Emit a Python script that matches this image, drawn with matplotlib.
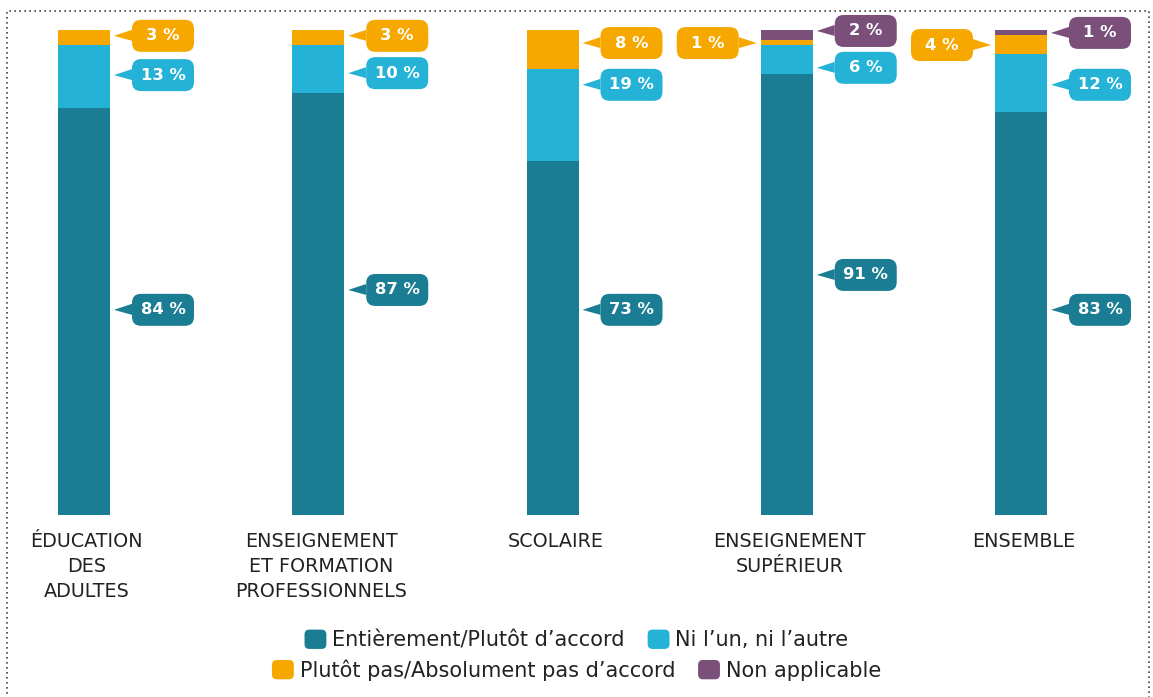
import matplotlib
matplotlib.use('Agg')
import matplotlib.pyplot as plt
from matplotlib.patches import FancyBboxPatch, Polygon, Rectangle, Patch
from matplotlib.legend_handler import HandlerPatch
from matplotlib.transforms import IdentityTransform

# data
categories = ['ÉDUCATION\nDES\nADULTES', 'ENSEIGNEMENT\nET FORMATION\nPROFESSIONNELS',
              'SCOLAIRE', 'ENSEIGNEMENT\nSUPÉRIEUR', 'ENSEMBLE']
accord = [84, 87, 73, 91, 83]
neutre = [13, 10, 19, 6, 12]
desaccord = [3, 3, 8, 1, 4]
non_app = [0, 0, 0, 2, 1]

series_names = ['Entièrement/Plutôt d’accord', 'Ni l’un, ni l’autre',
                'Plutôt pas/Absolument pas d’accord', 'Non applicable']
colors = ['#1b7d93', '#24b2d6', '#f6a800', '#7a507a']

# where the callouts sit (y in % units) and on which side of the bar
lab_accord = [42.3, 46.4, 42.3, 49.5, 42.3]
lab_neutre = [90.7, 91.1, 88.7, 92.2, 88.7]
lab_desaccord = [98.8, 98.8, 97.3, 97.3, 96.9]
side_desaccord = ['r', 'r', 'r', 'l', 'l']
lab_nonapp = [None, None, None, 99.8, 99.4]

W, H = 1153, 697
fig = plt.figure(figsize=(W / 100, H / 100), dpi=100)
ax = fig.add_axes([0, (H - 515) / H, 1, 485 / H])
step = 234.25
ax.set_xlim(-84 / step, (W - 84) / step)
ax.set_ylim(0, 100)
bw = 52 / step

x = list(range(len(categories)))
bottom = [0] * 5
for vals, col in zip([accord, neutre, desaccord, non_app], colors):
    ax.bar(x, vals, bw, bottom=bottom, color=col, linewidth=0)
    bottom = [b + v for b, v in zip(bottom, vals)]

for s in ax.spines.values():
    s.set_visible(False)
ax.set_yticks([])
ax.set_xticks([i + 0.012 for i in x])
ax.set_xticklabels(categories, fontsize=13.8, color='#222222', linespacing=1.42)
ax.tick_params(axis='x', length=0, pad=12)

ident = IdentityTransform()


def callout(i, yv, txt, col, side='r'):
    if side == 'r':
        px, py = ax.transData.transform((i + bw / 2, yv))
        tip = px + 4
        base = tip + 18
        bx = base
    else:
        px, py = ax.transData.transform((i - bw / 2, yv))
        tip = px - 4
        base = tip - 18
        bx = base - 62
    tri = Polygon([(tip, py), (base, py + 6), (base, py - 5)], closed=True,
                  facecolor=col, edgecolor='none', transform=ident)
    box = FancyBboxPatch((bx, py - 16), 62, 32, boxstyle='round,pad=0,rounding_size=9',
                         facecolor=col, edgecolor='none', transform=ident)
    fig.add_artist(tri)
    fig.add_artist(box)
    fig.text(bx + 31, py, txt, transform=ident, ha='center', va='center',
             color='white', fontsize=11.8, fontweight='bold')


for i in x:
    callout(i, lab_accord[i], f'{accord[i]} %', colors[0])
    callout(i, lab_neutre[i], f'{neutre[i]} %', colors[1])
    callout(i, lab_desaccord[i], f'{desaccord[i]} %', colors[2], side_desaccord[i])
    if lab_nonapp[i] is not None:
        callout(i, lab_nonapp[i], f'{non_app[i]} %', colors[3])


def rounded(legend, orig_handle, xdescent, ydescent, width, height, fontsize):
    return FancyBboxPatch((-xdescent, -ydescent), width, height,
                          boxstyle='round,pad=0,rounding_size=3.5')


hmap = {Patch: HandlerPatch(patch_func=rounded)}
rows = [[0, 1], [2, 3]]
ys = [(H - 640) / H, (H - 670) / H]
for r, yy in zip(rows, ys):
    handles = [Patch(facecolor=colors[k], edgecolor='none') for k in r]
    fig.legend(handles, [series_names[k] for k in r], loc='center', bbox_to_anchor=(0.5, yy),
               ncol=2, frameon=False, fontsize=15, handlelength=1.05, handleheight=1.05,
               handletextpad=0.28, columnspacing=1.1, handler_map=hmap,
               borderpad=0, labelcolor='#222222')

# dotted frame
fig.add_artist(Rectangle((7, -20), 1142, H - 11 + 20, fill=False, edgecolor='#444444',
                         linestyle=(0, (1, 2)), linewidth=1.2, transform=ident))

fig.savefig('out.png', dpi=100)
